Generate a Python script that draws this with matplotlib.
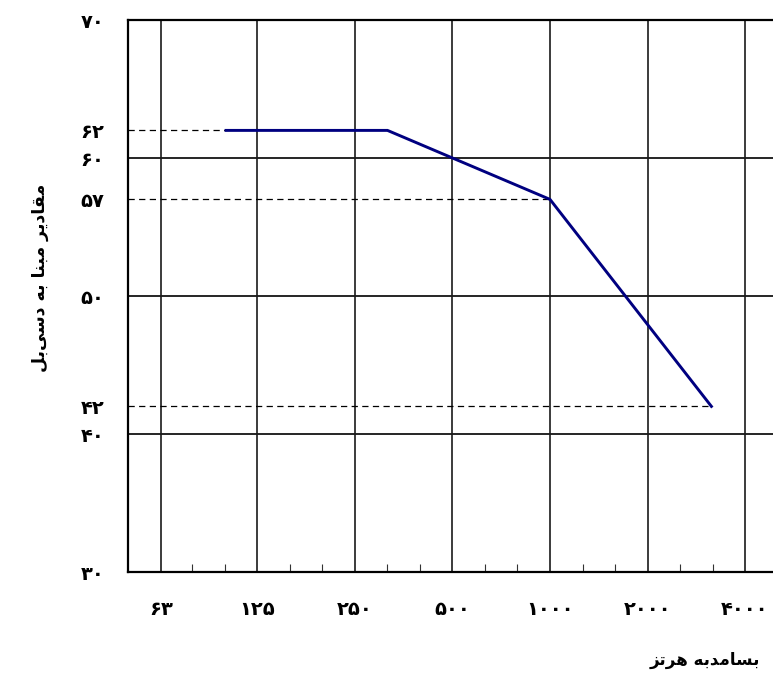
import matplotlib
matplotlib.use("Agg")
import matplotlib.pyplot as plt
from matplotlib.ticker import FixedLocator, NullFormatter
from matplotlib.font_manager import findfont, FontProperties
from matplotlib.ft2font import FT2Font

# ---------------- data ----------------
octave_freqs = [63, 125, 250, 500, 1000, 2000, 4000]
octave_labels = ['۶۳', '۱۲۵', '۲۵۰', '۵۰۰', '۱۰۰۰', '۲۰۰۰', '۴۰۰۰']
curve_freqs = [100, 315, 1000, 3150]
curve_levels = [62, 62, 57, 42]
ref_freqs = [100, 1000, 3150]
ref_levels = [62, 57, 42]
ytick_values = [30, 40, 42, 50, 57, 60, 62, 70]
ytick_labels = ['۳۰', '۴۰', '۴۲', '۵۰', '۵۷', '۶۰', '۶۲', '۷۰']
grid_levels = [40, 50, 60]
third_octave_steps = [n for n in range(-13, 8) if n % 3 != 0]
ylabel_text = 'مقادیر مبنا به دسی\u200cبل'
xlabel_text = 'بسامدبه هرتز'

# ---------------- simple Arabic/Persian shaping ----------------
fp_bold = FontProperties(family='DejaVu Sans', weight='bold')
_font = FT2Font(findfont(fp_bold))
_cmap = _font.get_charmap()

def has(c):
    return ord(c) in _cmap

FORMS = {
    'ب': ('\uFE8F', '\uFE90', '\uFE91', '\uFE92'),
    'س': ('\uFEB1', '\uFEB2', '\uFEB3', '\uFEB4'),
    'م': ('\uFEE1', '\uFEE2', '\uFEE3', '\uFEE4'),
    'ه': ('\uFEE9', '\uFEEA', '\uFEEB', '\uFEEC'),
    'ت': ('\uFE95', '\uFE96', '\uFE97', '\uFE98'),
    'ق': ('\uFED5', '\uFED6', '\uFED7', '\uFED8'),
    'ن': ('\uFEE5', '\uFEE6', '\uFEE7', '\uFEE8'),
    'ل': ('\uFEDD', '\uFEDE', '\uFEDF', '\uFEE0'),
    'ا': ('\uFE8D', '\uFE8E'),
    'د': ('\uFEA9', '\uFEAA'),
    'ر': ('\uFEAD', '\uFEAE'),
    'ز': ('\uFEAF', '\uFEB0'),
}
if all(has(c) for c in '\uFBFC\uFBFD\uFBFE\uFBFF'):
    FORMS['ی'] = ('\uFBFC', '\uFBFD', '\uFBFE', '\uFBFF')
else:
    FORMS['ی'] = ('\uFEEF', '\uFEF0', '\uFEF3', '\uFEF4')

def shape(text):
    out = []
    n = len(text)
    for i, c in enumerate(text):
        if c not in FORMS:
            if c != '\u200c':
                out.append(c)
            continue
        f = FORMS[c]
        prev = text[i - 1] if i > 0 else ''
        nxt = text[i + 1] if i + 1 < n else ''
        jp = prev in FORMS and len(FORMS[prev]) == 4
        jn = len(f) == 4 and nxt in FORMS
        if jp and jn:
            out.append(f[3])
        elif jp:
            out.append(f[1])
        elif jn:
            out.append(f[2])
        else:
            out.append(f[0])
    return ''.join(reversed(out))

# ---------------- figure ----------------
plt.rcParams['font.family'] = ['DejaVu Sans']
W, H = 773, 675
fig = plt.figure(figsize=(W / 100, H / 100), dpi=100)
ax = fig.add_axes([128 / W, 103 / H, (W - 128) / W, (572 - 20) / H])

ax.set_xscale('log', base=2)
ax.set_xlim(49.8, 4880)
ax.set_ylim(30, 70)

# grid
for lv in grid_levels:
    ax.axhline(lv, color='black', lw=1.2, zorder=1)
ax.xaxis.set_major_locator(FixedLocator(octave_freqs))
ax.set_xticklabels(octave_labels)
ax.grid(axis='x', which='major', color='#1a1a1a', lw=1.2, zorder=1)
ax.xaxis.set_minor_locator(FixedLocator([1000 * 2 ** (s / 3) for s in third_octave_steps]))
ax.xaxis.set_minor_formatter(NullFormatter())
ax.tick_params(axis='x', which='major', length=0, pad=20, labelsize=14)
ax.tick_params(axis='x', which='minor', direction='in', length=6, width=0.8, color='#333333')
ax.set_yticks(ytick_values)
ax.set_yticklabels(ytick_labels)
ax.tick_params(axis='y', which='major', length=0, pad=17, labelsize=14)
for lab in ax.get_xticklabels() + ax.get_yticklabels():
    lab.set_fontweight('bold')

# dashed reference lines
for f, lv in zip(ref_freqs, ref_levels):
    ax.plot([ax.get_xlim()[0], f], [lv, lv], color='black', lw=0.9,
            linestyle=(0, (5, 3.5)), zorder=2)

# curve
ax.plot(curve_freqs, curve_levels, color='#000080', lw=2.1, zorder=3,
        solid_joinstyle='miter')

for side in ['left', 'bottom', 'top']:
    ax.spines[side].set_linewidth(1.6)
    ax.spines[side].set_zorder(4)
ax.spines['right'].set_visible(False)

fig.text(40 / W, 1 - 278 / H, shape(ylabel_text), rotation=90, ha='center',
         va='center', fontsize=12.5, fontweight='bold')
fig.text(760 / W, 1 - 660 / H, shape(xlabel_text), ha='right', va='center',
         fontsize=12, fontweight='bold')

fig.savefig('out.png', dpi=100)
